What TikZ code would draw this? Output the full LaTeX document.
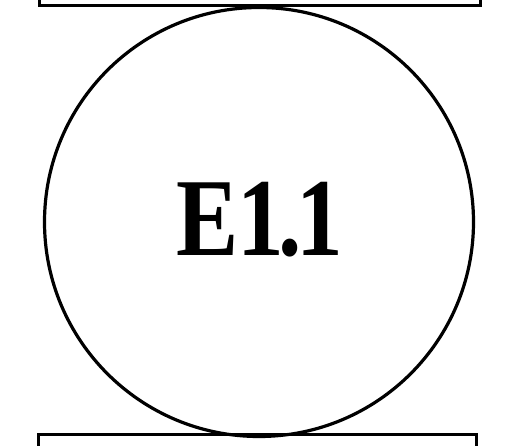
\documentclass[tikz,border=0pt]{standalone}
\usepackage{fontspec}
\setmainfont{Liberation Serif}
\begin{document}
\begin{tikzpicture}[x=1pt,y=-1pt,
  box/.style={draw,line width=3pt,rectangle,minimum width=441pt,minimum height=40pt,inner sep=0pt},
  ring/.style={draw,line width=3.2pt,circle,minimum size=429pt,inner sep=0pt},
  label/.style={inner sep=0pt,xscale=0.84,font=\fontsize{111}{111}\selectfont\bfseries}]
\useasboundingbox (0,0) rectangle (520,446);
\clip (0,0) rectangle (520,446);
\node[box] (top) at (259.5,-14) {};
\node[box,minimum width=438pt] (bottom) at (257,455) {};
\node[ring] (c) at (259,222) {};
\node[label] (t) at (260,220) {E\kern-0.02em 1\kern-0.05em .\kern-0.06em 1};
\end{tikzpicture}
\end{document}
